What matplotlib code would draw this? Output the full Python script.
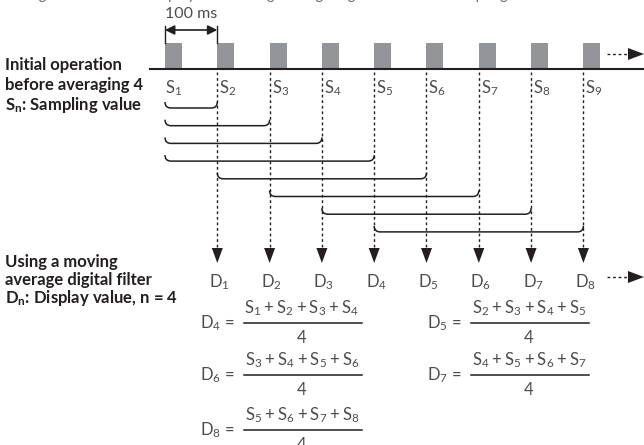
import matplotlib
matplotlib.use("Agg")
import matplotlib.pyplot as plt
from matplotlib.path import Path
from matplotlib.patches import PathPatch, Polygon

# ---------------- data ----------------
sample_labels = ["S1", "S2", "S3", "S4", "S5", "S6", "S7", "S8", "S9"]
display_labels = ["D1", "D2", "D3", "D4", "D5", "D6", "D7", "D8"]
interval_label = "100 ms"
window_n = 4
# brackets: (first sample index, last sample index) of each averaging window
bracket_spans = [(0, 1), (0, 2), (0, 3), (0, 4), (1, 5), (2, 6), (3, 7), (4, 8)]
formula_targets = ["D4", "D5", "D6", "D7", "D8"]
formula_terms = [["S1", "S2", "S3", "S4"],
                 ["S2", "S3", "S4", "S5"],
                 ["S3", "S4", "S5", "S6"],
                 ["S4", "S5", "S6", "S7"],
                 ["S5", "S6", "S7", "S8"]]
left_title_1 = ["Initial operation", "before averaging 4", "Sn: Sampling value"]
left_title_2 = ["Using a moving", "average digital filter", "Dn: Display value, n = 4"]
top_caption = "The figure below is to display the moving average digital filter with sampling number of 4."

# ---------------- layout ----------------
W, H = 644, 445
x0, step = 165.0, 52.3
bar_w, bar_top, base_y = 17, 43, 69
gray_bar = "#939598"
ink = "#231f20"
txt = "#4d4d4f"
FONT = ["Lato", "DejaVu Sans"]
plt.rcParams["font.family"] = FONT
plt.rcParams["mathtext.fontset"] = "custom"
plt.rcParams["mathtext.rm"] = "Lato"
plt.rcParams["mathtext.bf"] = "Lato:bold"

fig = plt.figure(figsize=(W / 100, H / 100), dpi=100)
ax = fig.add_axes([0, 0, 1, 1])
ax.set_xlim(0, W)
ax.set_ylim(H, 0)
ax.axis("off")

pos = [x0 + i * step for i in range(len(sample_labels))]

def sub(label):
    return r"$\mathregular{%s_{%s}}$" % (label[0], label[1:])

# clipped top caption (only its lowest part is visible)
ax.text(0, -1, top_caption, fontsize=11, color="#6d6e71", va="baseline", ha="left")

# 100 ms marker
ax.plot([pos[0], pos[0]], [26, bar_top], color=ink, lw=1)
ax.plot([pos[1], pos[1]], [26, bar_top], color=ink, lw=1)
ax.annotate("", xy=(pos[0], 30), xytext=(pos[1], 30),
            arrowprops=dict(arrowstyle="<|-|>", color=ink, lw=1.2,
                            mutation_scale=14, shrinkA=0, shrinkB=0))
ax.text((pos[0] + pos[1]) / 2, 14, interval_label, fontsize=11.5, color=txt,
        ha="center", va="center")

# baseline and sample bars
ax.plot([150, W], [base_y, base_y], color=ink, lw=1.5)
for p in pos:
    ax.add_patch(plt.Rectangle((p, bar_top), bar_w, base_y - bar_top - 0.8,
                               color=gray_bar, lw=0))
# continuation arrow (top)
ax.plot([607, 630], [54, 54], color=ink, lw=1, ls=(0, (2, 2)))
ax.add_patch(Polygon([[628, 48], [644, 54], [628, 60]], closed=True, color=ink, lw=0))

# sample labels
for i, (p, lab) in enumerate(zip(pos, sample_labels)):
    xx = p if i == 0 else p + 2
    ax.text(xx, 88, sub(lab), fontsize=12, color=txt, ha="left", va="center")

# dotted verticals and arrow heads to D
arrow_tip = 263
for p in pos[1:]:
    ax.plot([p, p], [72, arrow_tip - 14], color=ink, lw=1, ls=(0, (2, 2)))
    ax.add_patch(Polygon([[p - 5.5, arrow_tip - 15], [p + 5.5, arrow_tip - 15],
                          [p, arrow_tip]], closed=True, color=ink, lw=0))

# display labels
for p, lab in zip(pos[1:], display_labels):
    ax.text(p + 2, 282, sub(lab), fontsize=12, color=txt, ha="center", va="center")
# continuation arrow (bottom)
ax.plot([607, 630], [277, 277], color=ink, lw=1, ls=(0, (2, 2)))
ax.add_patch(Polygon([[628, 271], [644, 277], [628, 283]], closed=True, color=ink, lw=0))

# brackets
b_y0, b_dy, r = 108, 17.7, 6
for k, (a, b) in enumerate(bracket_spans):
    xa, xb = pos[a], pos[b]
    yb = b_y0 + k * b_dy
    yt = yb - r
    verts = [(xa, yt), (xa, yb), (xa + r, yb), (xb - r, yb), (xb, yb), (xb, yt)]
    codes = [Path.MOVETO, Path.CURVE3, Path.CURVE3, Path.LINETO, Path.CURVE3, Path.CURVE3]
    ax.add_patch(PathPatch(Path(verts, codes), fill=False, ec=ink, lw=1.1))

# left titles
for j, line in enumerate(left_title_1):
    s = line
    if line.startswith("Sn"):
        s = r"$\mathbf{S_n}$" + line[2:]
    ax.text(5, 65 + j * 20, s, fontsize=12, fontweight="bold", color=ink,
            ha="left", va="center")
for j, line in enumerate(left_title_2):
    s = line
    if line.startswith("Dn"):
        s = r"$\mathbf{D_n}$" + line[2:]
    ax.text(5, 262 + j * 18, s, fontsize=12, fontweight="bold", color=ink,
            ha="left", va="center")

# formulas
slots = [(250, 323), (477, 323), (250, 375), (477, 375), (250, 430)]
for tgt, terms, (fx, fy) in zip(formula_targets, formula_terms, slots):
    num = r"$\mathregular{" + "+".join("%s_{%s}" % (t[0], t[1:]) for t in terms) + "}$"
    ax.text(fx - 15, fy, sub(tgt) + " =", fontsize=12, color=txt, ha="right", va="center")
    ax.plot([fx - 6, fx + 112], [fy, fy], color=ink, lw=1.1)
    ax.text(fx + 52, fy - 15, num, fontsize=12, color=txt, ha="center", va="center")
    ax.text(fx + 52, fy + 15, str(window_n), fontsize=12, color=txt, ha="center", va="center")

fig.savefig("out.png", dpi=100)
